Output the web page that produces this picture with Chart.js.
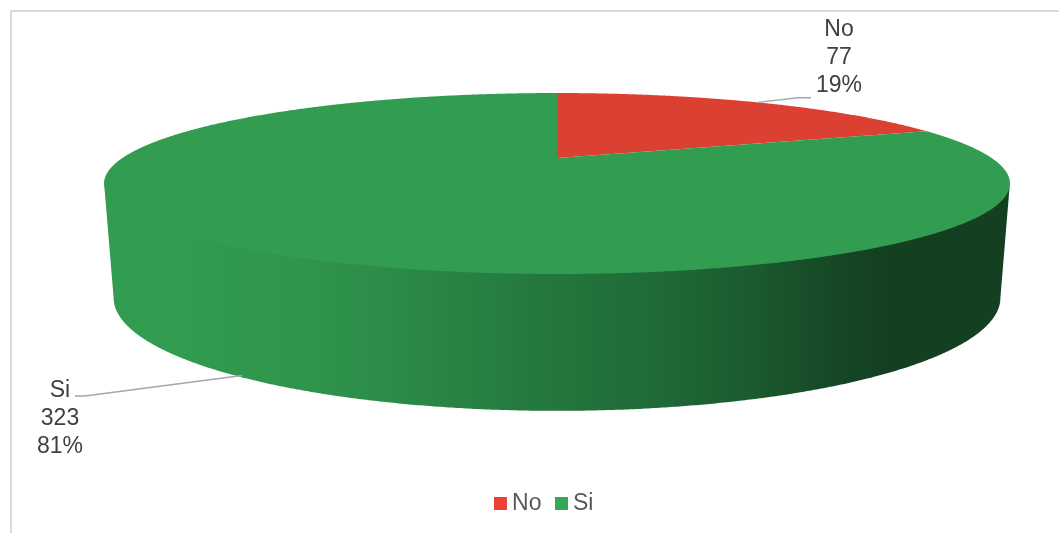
<!DOCTYPE html>
<html>
<head>
<meta charset="utf-8">
<style>
  html, body { margin: 0; padding: 0; background: #fff; overflow: hidden; }
  #frame { position: absolute; left: 10px; top: 10px; right: 0; bottom: 0; border-left: 2px solid #d9d9d9; border-top: 2px solid #d9d9d9; }
  #wrap { position: absolute; left: 0; top: 0; width: 1059px; height: 533px; }
</style>
<script src="https://cdn.jsdelivr.net/npm/chart.js@4/dist/chart.umd.js"></script>
</head>
<body>
<div id="frame"></div>
<div id="wrap"><canvas id="chart"></canvas></div>
<script>
// values
const categories = ['No', 'Si'];
const counts = [77, 323];
const percentLabels = ['19%', '81%'];
const legendColors = ['#ea4335', '#34a853'];
const topColors = ['#db4032', '#329c50'];

const FONT = '"Liberation Sans", Arial, sans-serif';

// perspective of the disc: near edge looks bigger than the far one
const K = 0.282;
const TOP = { x: 557, y: 158, a: 434.6, b: 83.3 };
const WALL_TOP = { x: 557, y: 156.5, a: 434.6, b: 83.3 }; // tucked under the top face, hides the seam
const BASE = { x: 557, y: 266, a: 425.4, b: 104 };

function project(disc, angle) {
  const u = Math.cos(angle), v = Math.sin(angle);
  const d = 1 - K * v;
  return { x: disc.x + disc.a * u / d, y: disc.y + disc.b * v / d };
}

function sweep(ctx, disc, from, to) {
  const steps = Math.max(2, Math.ceil(Math.abs(to - from) / 0.005));
  for (let i = 0; i <= steps; i++) {
    const p = project(disc, from + (to - from) * i / steps);
    ctx.lineTo(p.x, p.y);
  }
}

function sideGradient(ctx) {
  const g = ctx.createLinearGradient(172, 0, 890, 0);
  g.addColorStop(0, '#329c50');
  g.addColorStop(0.18, '#2f954c');
  g.addColorStop(0.32, '#2b8a47');
  g.addColorStop(0.53, '#23763e');
  g.addColorStop(0.67, '#206a38');
  g.addColorStop(0.81, '#1b5a2f');
  g.addColorStop(0.94, '#154524');
  g.addColorStop(1, '#143f20');
  return g;
}

const pie3d = {
  id: 'pie3d',
  beforeDatasetDraw(chart) {
    const ctx = chart.ctx;
    const arcs = chart.getDatasetMeta(0).data;
    const frontFrom = Math.asin(K), frontTo = Math.PI - Math.asin(K);
    ctx.save();

    // side wall, only the part of each slice that faces the viewer
    arcs.forEach((arc) => {
      for (const shift of [0, Math.PI * 2]) {
        const from = Math.max(arc.startAngle, frontFrom + shift);
        const to = Math.min(arc.endAngle, frontTo + shift);
        if (to <= from) continue;
        ctx.beginPath();
        sweep(ctx, WALL_TOP, from, to);
        sweep(ctx, BASE, to, from);
        ctx.closePath();
        ctx.fillStyle = sideGradient(ctx);
        ctx.fill();
      }
    });

    // top face
    arcs.forEach((arc, i) => {
      ctx.beginPath();
      ctx.moveTo(TOP.x, TOP.y);
      sweep(ctx, TOP, arc.startAngle, arc.endAngle);
      ctx.closePath();
      ctx.fillStyle = topColors[i];
      ctx.fill();
    });
    ctx.restore();
    return false;
  },
  afterDatasetsDraw(chart) {
    const ctx = chart.ctx;
    const arcs = chart.getDatasetMeta(0).data;
    const mid = arcs.map((a) => (a.startAngle + a.endAngle) / 2);
    const noAnchor = project(TOP, mid[0]);
    const siAnchor = project(BASE, mid[1]);

    ctx.save();
    ctx.strokeStyle = '#a6a6a6';
    ctx.lineWidth = 1.5;
    ctx.beginPath();
    ctx.moveTo(noAnchor.x, noAnchor.y);
    ctx.lineTo(798, 97.7);
    ctx.lineTo(811, 97.7);
    ctx.stroke();
    ctx.beginPath();
    ctx.moveTo(siAnchor.x, siAnchor.y - 2);
    ctx.lineTo(85, 396);
    ctx.lineTo(75, 396);
    ctx.stroke();

    ctx.fillStyle = '#404040';
    ctx.font = '23px ' + FONT;
    ctx.textAlign = 'center';
    ctx.textBaseline = 'middle';
    [[839, 30], [60, 391]].forEach((pos, i) => {
      ctx.fillText(categories[i], pos[0], pos[1]);
      ctx.fillText(String(counts[i]), pos[0], pos[1] + 28);
      ctx.fillText(percentLabels[i], pos[0], pos[1] + 56);
    });
    ctx.restore();
  }
};

// square legend swatches, sized apart from the font
function swatch(color) {
  const c = document.createElement('canvas');
  c.width = 13;
  c.height = 13;
  const g = c.getContext('2d');
  g.fillStyle = color;
  g.fillRect(0, 0, 13, 13);
  return c;
}
const swatches = legendColors.map(swatch);

new Chart(document.getElementById('chart'), {
  type: 'pie',
  data: {
    labels: categories,
    datasets: [{ data: counts, backgroundColor: legendColors, borderWidth: 0 }]
  },
  options: {
    responsive: true,
    maintainAspectRatio: false,
    animation: false,
    layout: { padding: { left: 35, bottom: 8 } },
    plugins: {
      tooltip: { enabled: false },
      legend: {
        position: 'bottom',
        labels: {
          usePointStyle: true,
          boxWidth: 0.01,
          padding: 20,
          color: '#595959',
          font: { family: FONT, size: 23 },
          generateLabels(chart) {
            const items = Chart.overrides.pie.plugins.legend.labels.generateLabels(chart);
            items.forEach((item, i) => { item.pointStyle = swatches[i]; });
            return items;
          }
        }
      }
    }
  },
  plugins: [pie3d]
});
</script>
</body>
</html>
